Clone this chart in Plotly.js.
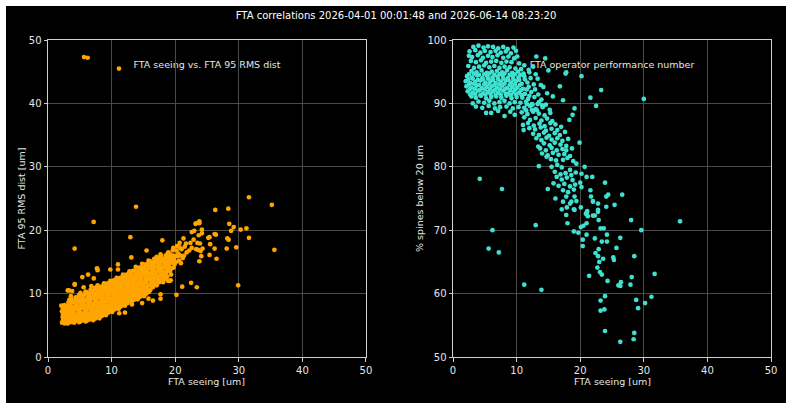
<!DOCTYPE html>
<html>
<head>
<meta charset="utf-8">
<script src="https://cdn.plot.ly/plotly-3.0.1.min.js"></script>
<style>
html,body{margin:0;padding:0;background:#ffffff;}
#chart{position:absolute;left:6px;top:6px;width:780px;height:397px;background:#000;}
</style>
</head>
<body>
<div id="chart"></div>
<script>
// ---------- data: left panel (FTA seeing vs FTA 95 RMS dist) ----------
const seeingA = [
 2.2,2.3,2.2,2.4,2.6,2.7,2.5,2.8,2.6,2.9,2.9,2.8,2.3,2.1,
 3.1,3.2,3.0,3.3,3.2,3.5,3.6,3.4,3.5,3.7,3.9,3.8,3.9,3.3,3.6,3.9,
 4.1,4.2,4.0,4.3,4.1,4.5,4.6,4.4,4.6,4.5,4.9,4.8,4.9,4.7,4.8,4.9,4.2,
 5.1,5.2,5.0,5.3,5.2,5.1,5.5,5.6,5.4,5.6,5.5,5.9,5.8,5.9,5.7,5.8,5.9,5.4,5.6,
 6.1,6.2,6.0,6.3,6.2,6.1,6.5,6.6,6.4,6.6,6.5,6.7,6.9,6.8,6.9,6.7,6.9,6.3,6.8,
 7.1,7.2,7.0,7.3,7.2,7.1,7.5,7.6,7.4,7.6,7.5,7.7,7.9,7.8,7.9,7.7,7.9,7.8,7.7,7.8,7.2,
 8.1,8.2,8.0,8.3,8.2,8.1,8.5,8.6,8.4,8.6,8.5,8.7,8.9,8.8,8.9,8.7,8.9,8.8,
 9.1,9.2,9.0,9.3,9.2,9.1,9.5,9.6,9.4,9.6,9.5,9.7,9.9,9.8,9.9,9.7,9.9,9.8,9.8,
 10.1,10.2,10.0,10.3,10.2,10.1,10.5,10.6,10.4,10.6,10.5,10.7,10.9,10.8,10.9,10.7,10.9,10.8,11.0,11.0,
 11.1,11.2,11.0,11.3,11.2,11.1,11.5,11.6,11.4,11.6,11.5,11.7,11.9,11.8,11.9,11.7,11.9,11.8,11.2,11.2,12.1,
 12.1,12.2,12.0,12.3,12.2,12.1,12.5,12.6,12.4,12.6,12.5,12.7,12.9,12.8,12.9,12.7,12.9,12.8,12.95,
 13.1,13.2,13.0,13.3,13.2,13.1,13.5,13.6,13.4,13.6,13.5,13.7,13.9,13.8,13.9,13.7,13.9,13.8,13.2,13.1,13.84,
 14.1,14.2,14.0,14.3,14.2,14.1,14.5,14.6,14.4,14.6,14.5,14.7,14.9,14.8,14.9,14.7,14.9,14.8,14.8,
 15.1,15.2,15.0,15.3,15.2,15.1,15.5,15.6,15.4,15.6,15.5,15.7,15.9,15.8,15.9,15.7,15.9,15.8,15.8,15.5,
 16.1,16.2,16.0,16.3,16.2,16.1,16.5,16.6,16.4,16.6,16.5,16.7,16.9,16.8,16.9,16.7,16.5,16.9,
 17.1,17.2,17.0,17.3,17.2,17.1,17.5,17.6,17.4,17.6,17.5,17.7,17.9,17.8,17.9,17.8,17.7,17.7,17.98,
 18.1,18.2,18.0,18.3,18.2,18.5,18.6,18.4,18.6,18.5,18.9,18.8,18.9,18.7,18.9,
 19.1,19.2,19.0,19.3,19.2,19.5,19.6,19.4,19.6,19.9,19.8,19.7,19.3,
 20.2,20.1,20.3,20.2,20.6,20.5,20.7,20.9,20.8,20.7,20.3,
 21.1,21.2,21.0,21.4,21.5,21.8,21.7,21.3,
 22.5,23.4,22.2,22.4,22.6,22.9,23.0,23.2,23.5,23.8,23.8,23.3,23.6,23.9,24.2,24.3,24.1,23.8,24.0,23.7,24.2,
 25.2,25.4,26.2,26.4,25.5,26.2,26.5,25.4,28.2,28.4,28.1,29.6,28.8,31.6,35.6,29.9,26.3,28.35,28.5,29.2,30.3,31.2,31.6,35.2,23.3,22.6,
 5.66,6.24,11.16,7.18,4.19,3.8,3.1,4.2
];
const rmsDist = [
 5.4,6.3,7.2,8.0,5.3,6.0,6.8,7.6,8.2,5.6,6.6,7.1,7.9,8.1,
 5.3,6.1,7.0,7.8,8.6,5.5,6.4,7.3,8.2,9.1,5.6,6.8,7.7,10.5,9.6,8.6,
 5.4,6.2,7.1,8.0,8.9,5.7,6.6,7.5,8.4,9.3,5.5,6.3,7.2,8.0,9.0,9.8,11.4,
 5.6,6.5,7.4,8.3,9.2,10.1,5.8,6.8,7.7,8.6,9.6,5.6,6.4,7.3,8.1,9.0,10.3,12.6,11.0,
 5.7,6.6,7.5,8.4,9.3,10.2,5.9,6.9,7.8,8.7,9.7,10.6,6.2,7.3,8.2,9.1,10.0,13.0,11.2,
 5.8,6.8,7.7,8.6,9.5,10.4,6.1,7.1,8.0,8.9,9.9,10.8,6.4,7.4,8.4,9.3,10.2,11.3,14.0,13.7,12.4,
 6.1,7.0,7.9,8.8,9.7,10.6,6.5,7.4,8.3,9.2,10.2,11.1,6.8,7.8,8.7,9.6,10.5,11.6,
 6.6,7.5,8.4,9.3,10.2,11.1,7.0,7.9,8.8,9.7,10.7,11.6,7.2,8.2,9.1,10.0,11.0,12.0,13.8,
 7.1,8.0,8.9,9.8,10.7,11.6,7.5,8.4,9.3,10.2,11.2,12.1,7.8,8.8,9.7,10.6,11.5,12.5,14.6,13.8,
 7.6,8.5,9.4,10.3,11.2,12.1,8.0,8.9,9.8,10.7,11.7,12.6,8.3,9.3,10.2,11.1,12.0,13.0,7.8,6.9,7.0,
 8.1,9.0,9.9,10.8,11.7,12.6,8.5,9.4,10.3,11.2,12.2,13.1,8.8,9.8,10.7,11.6,12.5,13.5,18.9,
 8.6,9.5,10.4,11.3,12.2,13.1,9.0,9.9,10.8,11.7,12.7,13.6,9.3,10.3,11.2,12.1,13.0,14.2,8.3,15.7,23.7,
 9.1,10.0,10.9,11.8,12.7,13.6,9.5,10.4,11.3,12.2,13.2,14.1,9.8,10.8,11.7,12.6,13.5,14.7,8.5,
 9.6,10.5,11.4,12.3,13.2,14.1,10.0,10.9,11.8,12.7,13.7,14.6,10.3,11.3,12.2,13.1,14.0,15.2,9.2,16.8,
 10.6,11.5,12.4,13.3,14.2,15.1,11.0,11.9,12.8,13.7,14.6,15.5,11.4,12.4,13.3,14.2,8.9,15.0,
 11.3,12.2,13.1,14.0,14.9,15.8,11.8,12.7,13.6,14.5,15.4,16.2,12.2,13.2,14.1,15.2,9.2,9.9,18.4,
 11.8,12.8,13.7,14.6,15.5,12.3,13.3,14.2,15.1,16.0,12.0,13.9,14.8,15.7,16.5,
 12.0,13.5,14.4,15.3,16.2,14.0,14.9,15.8,16.8,14.6,15.5,17.2,12.1,
 9.8,15.0,15.9,16.8,15.2,16.3,17.3,14.8,16.0,18.0,17.5,
 11.1,15.6,17.0,16.0,17.4,16.5,17.9,18.7,
 11.7,11.0,16.8,18.0,17.2,18.5,19.9,21.0,18.0,21.4,21.1,17.0,16.9,17.9,19.5,17.1,15.9,15.1,16.7,19.2,20.1,
 18.8,18.9,19.4,19.3,17.8,17.1,15.5,16.1,18.7,18.5,17.1,17.3,19.9,18.8,16.9,11.3,23.2,23.4,21.0,20.5,20.1,20.3,25.2,24.0,21.1,19.7,
 47.3,47.2,45.5,21.3,17.1,10.4,10.5,11.5
];
// extra points filling the dense core of the left panel
const seeingCoreA = [
 2.35,2.35,2.35,2.75,2.75,2.75,2.75,
 3.35,3.35,3.35,3.35,3.35,3.75,3.75,3.75,3.75,
 4.35,4.35,4.35,4.35,4.35,4.75,4.75,4.75,4.75,4.75,
 5.35,5.35,5.35,5.35,5.35,5.75,5.75,5.75,5.75,5.75,
 6.35,6.35,6.35,6.35,6.35,6.75,6.75,6.75,6.75,6.75,
 7.35,7.35,7.35,7.35,7.35,7.35,7.75,7.75,7.75,7.75,7.75,
 8.35,8.35,8.35,8.35,8.35,8.35,8.75,8.75,8.75,8.75,8.75,
 9.35,9.35,9.35,9.35,9.35,9.35,9.75,9.75,9.75,9.75,9.75,
 10.35,10.35,10.35,10.35,10.35,10.35,10.75,10.75,10.75,10.75,10.75,
 11.35,11.35,11.35,11.35,11.35,11.35,11.75,11.75,11.75,11.75,11.75,
 12.35,12.35,12.35,12.35,12.35,12.35,12.75,12.75,12.75,12.75,12.75,
 13.35,13.35,13.35,13.35,13.35,13.35,13.75,13.75,13.75,13.75,13.75,
 14.35,14.35,14.35,14.35,14.35,14.35,14.75,14.75,14.75,14.75,14.75,
 15.35,15.35,15.35,15.35,15.35,15.35,15.75,15.75,15.75,15.75,15.75,
 16.35,16.35,16.35,16.35,16.35,16.75,16.75,16.75,16.75,16.75,
 17.35,17.35,17.35,17.35,17.35,17.75,17.75,17.75,17.75,17.75,
 18.35,18.35,18.35,18.35,18.75,18.75,18.75,18.75,18.75,
 19.35,19.35,19.35,19.35,19.75,19.75,19.75
];
const rmsCoreA = [
 5.8,6.7,7.6,5.5,6.4,7.4,8.0,
 5.7,6.6,7.4,8.2,9.0,6.0,7.0,7.9,8.8,
 5.8,6.7,7.6,8.5,9.4,6.0,6.9,7.8,8.7,9.5,
 6.0,6.9,7.8,8.8,9.7,6.1,7.0,8.0,8.9,9.9,
 6.1,7.0,8.0,8.9,9.8,6.4,7.4,8.4,9.3,10.3,
 6.3,7.2,8.1,9.1,10.0,10.9,6.6,7.6,8.5,9.5,10.5,
 6.6,7.5,8.4,9.3,10.2,11.1,7.0,7.9,8.8,9.8,10.8,
 7.1,8.0,8.9,9.8,10.7,11.6,7.5,8.4,9.3,10.3,11.3,
 7.6,8.5,9.4,10.3,11.2,12.1,8.0,8.9,9.9,10.8,11.8,
 8.1,9.0,9.9,10.8,11.7,12.5,8.5,9.4,10.4,11.3,12.3,
 8.6,9.5,10.4,11.3,12.2,13.0,9.0,9.9,10.9,11.8,12.8,
 9.1,10.0,10.9,11.8,12.7,13.6,9.5,10.4,11.4,12.3,13.3,
 9.6,10.5,11.4,12.3,13.2,14.1,10.0,10.9,11.9,12.8,13.8,
 10.1,11.0,11.9,12.8,13.7,14.6,10.5,11.4,12.4,13.3,14.3,
 11.1,12.0,12.9,13.8,14.7,11.5,12.4,13.4,14.3,15.1,
 11.8,12.7,13.6,14.5,15.4,12.2,13.1,14.1,15.0,15.8,
 12.3,13.3,14.2,15.1,12.7,13.6,14.6,15.4,16.2,
 13.0,14.0,14.9,15.8,14.1,15.1,16.0
];

// ---------- data: right panel (FTA operator performance number) ----------
const seeingB = [
 3.2,4.0,4.8,5.5,6.3,7.1,7.9,8.6,9.5,
 2.6,3.5,4.3,5.0,5.9,6.7,7.5,8.3,9.1,9.9,
 2.5,3.0,3.9,4.7,5.5,6.2,7.0,7.9,8.7,9.6,10.1,13.1,
 2.8,3.6,4.4,5.2,6.0,6.8,7.6,8.4,9.2,10.4,11.2,14.5,
 2.4,3.3,4.1,4.9,5.7,6.5,7.3,8.1,8.9,9.8,10.7,11.9,12.6,15.0,
 2.9,3.7,4.5,5.3,6.1,6.9,7.7,8.5,9.3,10.2,11.1,12.0,13.0,17.7,17.8,
 2.2,3.0,3.8,4.6,5.4,6.2,7.0,7.8,8.6,9.4,10.3,11.2,12.2,13.3,20.2,
 2.0,2.7,3.5,4.3,5.1,5.9,6.7,7.5,8.3,9.1,9.9,10.8,11.7,12.7,13.8,16.8,
 2.1,2.9,3.7,4.5,5.3,6.1,6.9,7.7,8.5,9.3,10.1,11.0,11.9,12.9,14.2,23.3,
 2.3,3.1,3.9,4.7,5.5,6.3,7.1,7.9,8.7,9.5,10.4,11.3,12.3,13.4,14.8,
 2.9,3.6,4.4,5.2,6.0,6.8,7.6,8.4,9.2,10.0,10.9,11.8,12.8,13.9,15.7,21.6,
 3.1,4.0,4.9,5.7,6.5,7.3,8.1,8.9,9.7,10.6,11.5,12.4,13.5,14.6,17.3,30.0,
 3.6,4.6,5.6,6.6,7.4,8.4,9.4,10.3,11.2,12.1,13.0,14.1,15.2,19.1,22.5,
 5.2,6.0,7.1,8.1,9.0,9.7,10.8,11.7,12.6,13.5,14.4,15.3,18.8,
 11.2,12.1,13.0,13.9,14.8,15.6,18.3,
 11.0,11.8,12.7,13.6,14.4,15.3,16.1,
 11.1,12.0,12.9,13.8,14.6,15.5,16.4,17.0,
 12.6,13.5,14.3,15.1,16.0,16.8,17.6,
 13.1,13.9,14.7,15.5,16.4,17.2,18.1,
 13.4,14.3,15.2,16.0,16.9,17.8,19.9,
 13.7,14.6,15.5,16.3,17.2,17.8,18.7,
 14.0,14.9,15.7,16.6,17.5,18.4,
 14.7,15.4,16.2,17.3,18.0,18.9,
 13.5,15.5,16.4,17.1,18.4,19.4,20.7,
 16.0,16.9,17.7,18.6,19.3,20.2,
 16.3,17.1,17.9,18.8,21.0,21.9,23.9,
 15.8,16.6,17.5,18.4,19.2,20.0,
 14.9,17.3,18.1,19.0,20.2,21.6,
 16.1,17.8,19.1,21.7,24.1,24.4,26.6,
 17.3,18.4,18.6,19.4,22.0,22.8,22.0,25.4,
 17.1,17.9,19.0,19.1,20.1,21.1,22.8,24.1,
 17.8,20.9,21.2,22.0,22.3,22.8,21.0,
 18.0,21.0,22.9,28.0,35.7,
 19.0,19.7,20.1,20.5,23.2,23.7,13.0,6.2,29.6,
 21.0,24.2,22.3,20.4,23.4,24.2,26.3,20.4,22.9,25.7,22.4,22.8,23.0,23.6,25.2,25.3,28.5,
 22.7,23.1,23.4,21.4,24.3,26.4,26.0,26.3,27.9,28.1,31.7,23.9,23.2,28.8,30.2,31.2,29.1,
 23.2,23.8,23.9,28.5,28.4,26.3,5.6,7.2,11.2,13.9,4.2,7.7
];
const spinesBelow20 = [
 98.9,99.1,98.8,99.0,98.9,98.7,98.9,98.6,98.8,
 98.2,98.4,98.0,98.3,98.1,98.3,98.0,98.2,97.9,98.3,
 97.5,97.3,97.6,97.2,97.5,97.3,97.6,97.2,97.4,97.1,97.4,97.4,
 96.7,96.5,96.8,96.4,96.6,96.7,96.4,96.6,96.5,96.3,96.0,97.1,
 95.9,95.6,95.8,96.0,95.7,95.9,95.6,95.8,95.7,95.5,95.4,95.3,95.8,95.2,
 95.1,94.9,95.2,94.8,95.0,95.1,94.9,95.2,94.8,95.0,94.7,94.9,94.6,94.7,94.9,
 94.3,94.1,94.4,94.0,94.3,94.1,94.2,94.4,94.0,94.2,94.1,94.3,94.0,93.9,94.3,
 93.5,93.2,93.4,93.6,93.3,93.5,93.2,93.4,93.6,93.3,93.5,93.1,93.3,93.0,92.9,92.7,
 92.7,92.5,92.8,92.4,92.6,92.7,92.5,92.8,92.4,92.6,92.5,92.3,92.6,92.2,92.6,92.1,
 91.9,91.7,92.0,91.6,91.8,91.9,91.7,92.0,91.6,91.8,91.7,91.5,91.8,91.4,91.6,
 91.1,90.9,91.2,90.8,91.0,91.1,90.9,91.2,90.8,91.0,90.9,90.7,91.0,90.6,91.1,90.9,
 90.0,90.3,90.1,90.4,90.0,90.2,90.4,90.0,90.2,90.1,90.3,89.9,90.2,89.8,90.5,90.7,
 89.5,89.3,89.6,89.2,89.4,89.5,89.2,89.4,89.3,89.6,89.1,89.4,89.0,89.2,89.6,
 88.5,88.5,88.8,88.0,88.7,88.2,88.6,88.3,88.7,88.4,88.1,88.5,88.2,
 87.8,87.4,87.7,87.3,87.6,87.2,87.4,
 86.6,86.9,86.5,86.8,86.4,86.9,86.7,
 85.8,86.1,85.9,86.2,85.7,86.0,85.8,86.3,
 85.2,85.0,85.4,84.9,85.3,85.0,85.5,
 84.5,84.2,84.6,84.3,84.5,84.1,84.4,
 83.2,83.7,83.4,83.8,83.5,83.3,83.8,
 82.9,82.6,83.0,82.6,82.8,82.6,82.9,
 82.1,81.8,82.2,81.9,82.0,81.7,
 81.6,81.2,81.0,81.1,81.4,80.9,
 80.1,80.0,80.3,79.9,79.5,80.5,80.0,
 79.2,78.8,79.0,78.7,79.1,78.9,
 78.4,78.0,78.3,77.9,78.4,78.4,77.5,
 77.4,77.0,77.3,76.9,77.2,77.5,
 76.5,76.3,76.0,76.4,76.8,76.3,
 75.0,75.3,75.3,75.3,75.3,75.6,75.6,
 74.5,74.2,74.5,74.6,74.5,74.2,74.6,74.0,
 73.3,73.6,73.3,73.2,73.6,73.0,73.2,73.7,
 72.4,72.6,72.2,72.3,72.3,72.9,72.6,
 71.1,71.1,71.6,71.6,71.4,
 69.8,69.6,70.5,70.7,70.3,70.3,70.8,70.0,70.0,
 69.3,69.3,68.7,68.5,68.2,68.2,68.8,67.5,67.0,67.2,66.4,65.9,65.0,65.5,65.7,65.3,65.9,
 64.1,63.4,63.0,62.8,62.0,61.8,61.3,61.2,61.4,62.6,63.1,59.6,58.9,59.0,58.5,59.5,57.7,
 57.3,57.5,54.1,53.8,52.8,52.4,67.1,66.5,61.4,60.6,78.1,76.5
];
// extra points filling the dense middle band of the right panel
const seeingCoreB = [
 2.5,3.3,4.1,4.9,5.7,6.5,7.3,8.1,8.9,9.7,10.6,
 2.4,3.1,3.9,4.7,5.5,6.3,7.1,7.9,8.7,9.5,10.4,11.3,
 2.5,3.3,4.1,4.9,5.7,6.5,7.3,8.1,8.9,9.7,10.5,
 2.6,3.4,4.2,5.0,5.8,6.6,7.4,8.2,9.0,9.8,10.7,11.6,
 2.7,3.5,4.3,5.1,5.9,6.7,7.5,8.3,9.1,9.9,10.8,12.0,
 11.6,12.5,13.3,14.0,11.5,12.4,13.2
];
const spinesCoreB = [
 94.6,94.7,94.5,94.6,94.7,94.5,94.6,94.7,94.5,94.6,94.5,
 93.8,93.9,93.7,93.8,93.9,93.7,93.8,93.9,93.7,93.8,93.7,93.8,
 93.0,93.1,92.9,93.0,93.1,92.9,93.0,93.1,92.9,93.0,92.9,
 92.2,92.3,92.1,92.2,92.3,92.1,92.2,92.3,92.1,92.2,92.1,92.2,
 91.4,91.5,91.3,91.4,91.5,91.3,91.4,91.5,91.3,91.4,91.3,91.2,
 89.9,89.8,89.9,89.7,88.9,89.0,88.9
];

const figTitle = "FTA correlations 2026-04-01 00:01:48 and 2026-06-14 08:23:20";
const leftLabel = "FTA seeing vs. FTA 95 RMS dist";
const rightLabel = "FTA operator performance number";
const xTitle = "FTA seeing [um]";
const yTitleLeft = "FTA 95 RMS dist [um]";
const yTitleRight = "% spines below 20 um";

// ---------- figure ----------
const FONT = "DejaVu Sans, sans-serif";
const traces = [
  {x: seeingA.concat(seeingCoreA), y: rmsDist.concat(rmsCoreA), type: "scatter", mode: "markers",
   xaxis: "x", yaxis: "y", marker: {color: "#FFA500", size: 4.7, line: {width: 0}}, hoverinfo: "x+y"},
  {x: seeingB.concat(seeingCoreB), y: spinesBelow20.concat(spinesCoreB), type: "scatter", mode: "markers",
   xaxis: "x2", yaxis: "y2", marker: {color: "#40E0D0", size: 4.7, line: {width: 0}}, hoverinfo: "x+y"}
];

function axis(extra) {
  return Object.assign({
    showgrid: true, gridcolor: "#4a4a4a", gridwidth: 1,
    zeroline: false, showline: true, linecolor: "#cfcfcf", linewidth: 1, mirror: true,
    ticks: "outside", ticklen: 3.5, tickwidth: 1, tickcolor: "#cfcfcf",
    tickfont: {family: FONT, size: 10, color: "#e6e6e6"}, dtick: 10, fixedrange: true
  }, extra);
}

const titleFont = {family: FONT, size: 9.5, color: "#e6e6e6"};
const layout = {
  width: 780, height: 397,
  paper_bgcolor: "#000000", plot_bgcolor: "#000000",
  margin: {l: 42, r: 15, t: 34, b: 46},
  showlegend: false,
  font: {family: FONT, color: "#ffffff"},
  title: {text: figTitle, font: {family: FONT, size: 10, color: "#ffffff"},
          x: 0.5, xanchor: "center", y: 0.975, yanchor: "middle", yref: "container"},
  xaxis: axis({domain: [0, 0.4398], range: [0, 50], anchor: "y"}),
  yaxis: axis({domain: [0, 1], range: [0, 50], anchor: "x",
    title: {text: yTitleLeft, font: titleFont, standoff: 1}}),
  xaxis2: axis({domain: [0.5602, 1], range: [0, 50], anchor: "y2"}),
  yaxis2: axis({domain: [0, 1], range: [50, 100], anchor: "x2",
    title: {text: yTitleRight, font: titleFont, standoff: 2}}),
  annotations: [
    {text: xTitle, xref: "x domain", yref: "y domain", x: 0.5, y: 0, xanchor: "center", yanchor: "middle",
     yshift: -24, showarrow: false, font: titleFont},
    {text: xTitle, xref: "x2 domain", yref: "y2 domain", x: 0.5, y: 0, xanchor: "center", yanchor: "middle",
     yshift: -24, showarrow: false, font: titleFont}
  ],
  shapes: [
    {type: "rect", xref: "x domain", yref: "y domain", x0: 0.2, x1: 0.8, y0: 0.9, y1: 0.95,
     line: {width: 0}, fillcolor: "rgba(0,0,0,0)", layer: "below",
     label: {text: leftLabel, font: {family: FONT, size: 9.5, color: "#e6e6e6"}, textposition: "middle center"}},
    {type: "rect", xref: "x2 domain", yref: "y2 domain", x0: 0.2, x1: 0.8, y0: 0.9, y1: 0.95,
     line: {width: 0}, fillcolor: "rgba(0,0,0,0)", layer: "below",
     label: {text: rightLabel, font: {family: FONT, size: 9.5, color: "#e6e6e6"}, textposition: "middle center"}}
  ]
};

Plotly.newPlot("chart", traces, layout, {displayModeBar: false, staticPlot: true});
</script>
</body>
</html>
